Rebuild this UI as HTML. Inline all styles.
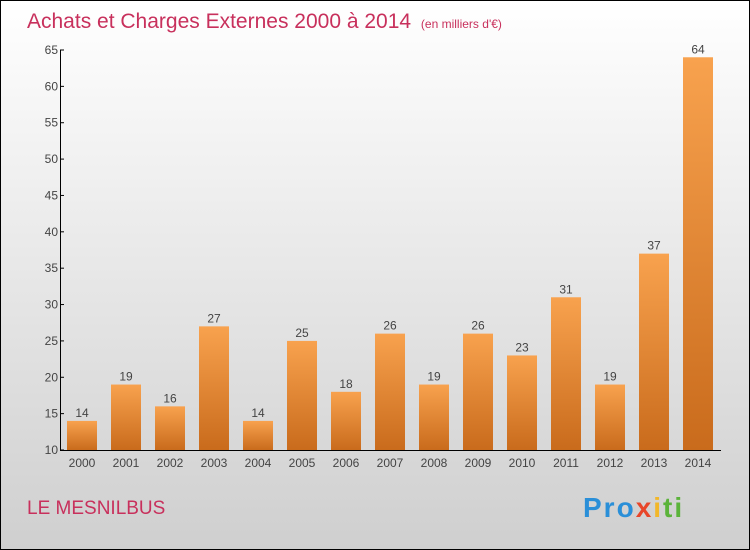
<!DOCTYPE html>
<html><head><meta charset="utf-8"><style>
body{margin:0;}
#c{position:relative;width:748px;height:548px;border:1px solid #000;background:linear-gradient(#ffffff,#cfcfcf);font-family:"Liberation Sans",sans-serif;overflow:hidden}
</style></head><body>
<div id="c">
<svg id="s" width="748" height="548">
<defs><linearGradient id="g" x1="0" y1="0" x2="0" y2="1"><stop offset="0" stop-color="#f8a24e"/><stop offset="1" stop-color="#c96b1c"/></linearGradient></defs>
<text x="26" y="27" font-size="21" fill="#c8305c">Achats et Charges Externes 2000 à 2014 <tspan font-size="12" dx="4">(en milliers d'€)</tspan></text>
<text x="26" y="513" font-size="19" fill="#c8305c">LE MESNILBUS</text>
<text x="582" y="516" font-size="28" font-weight="bold" letter-spacing="2"><tspan fill="#2a8fd8">Pro</tspan><tspan fill="#e8462a">x</tspan><tspan fill="#f2b72a">i</tspan><tspan fill="#5bb33a">ti</tspan></text>
</svg></div>
<script>
const years=["2000","2001","2002","2003","2004","2005","2006","2007","2008","2009","2010","2011","2012","2013","2014"];
const values=[14,19,16,27,14,25,18,26,19,26,23,31,19,37,64];
const ticks=[10,15,20,25,30,35,40,45,50,55,60,65];
const s=document.getElementById('s');const NS="http://www.w3.org/2000/svg";
const y=v=>449-(v-10)*400/55;const x=i=>81+i*44;
function el(t,a,txt){const e=document.createElementNS(NS,t);for(const k in a)e.setAttribute(k,a[k]);if(txt!=null)e.textContent=txt;s.appendChild(e);return e;}
years.forEach((yr,i)=>{
const r=el('rect',{x:x(i)-15,y:y(values[i]),width:30,height:449-y(values[i]),fill:'url(#g)'});


const t=el('text',{x:x(i),y:y(values[i])-4,'text-anchor':'middle','font-size':12,fill:'#444'},values[i]);


const l=el('text',{x:x(i),y:466,'text-anchor':'middle','font-size':12,fill:'#444'},yr);


});
ticks.forEach(v=>{
const tk=el('line',{x1:59,x2:63,y1:y(v),y2:y(v),stroke:'#000'});


const t=el('text',{x:57,y:y(v)+4,'text-anchor':'end','font-size':12,fill:'#444'},v);


});
const ya=el('line',{x1:59.5,x2:59.5,y1:y(65),y2:449.5,stroke:'#000'});


const xa=el('line',{x1:59,x2:720,y1:449.5,y2:449.5,stroke:'#000'});


</script>
</body></html>
